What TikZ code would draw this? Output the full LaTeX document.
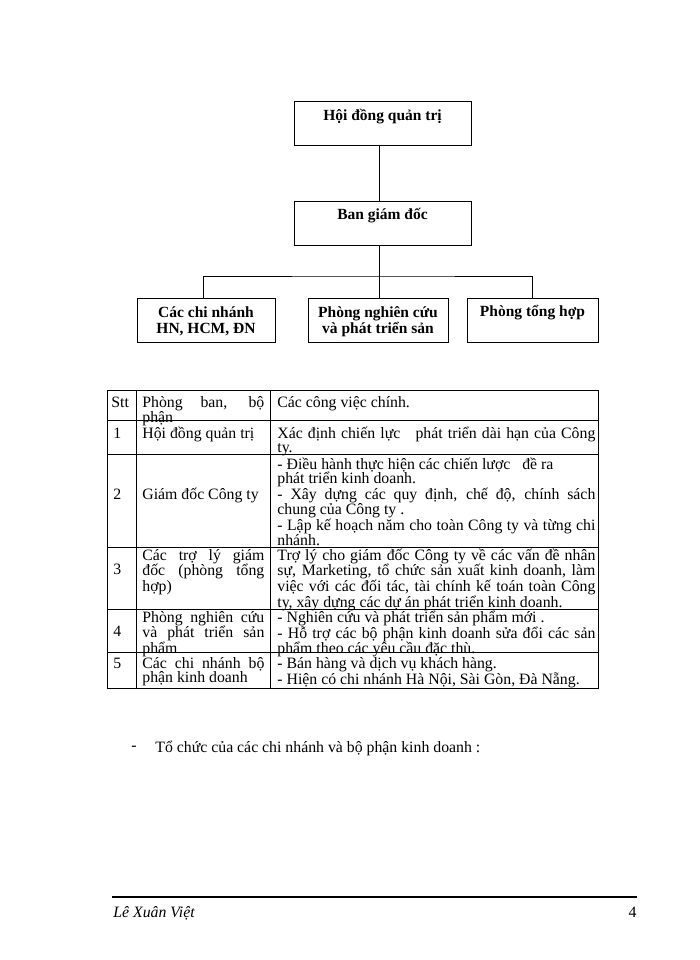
\documentclass[tikz,border=0pt]{standalone}
\usepackage{fontspec}
\setmainfont{Liberation Serif}
\usetikzlibrary{positioning}
\newcommand{\orgsize}{\fontsize{15.5}{16.5}\selectfont}
\newcommand{\cellsize}{\fontsize{15.8}{14.3}\selectfont}

\begin{document}
\begin{tikzpicture}[x=1pt, y=-1pt, line width=0.8pt, node distance=55pt, every node/.style={font=\cellsize}]
\tikzstyle{orgbox}=[rectangle, draw, inner sep=0pt, minimum height=44pt]
\tikzstyle{orglabel}=[font=\bfseries\orgsize, align=center, anchor=base, inner sep=0pt, yshift=-19pt]
\tikzstyle{orglabeltwo}=[orglabel, yshift=-17pt]
\tikzstyle{cell}=[anchor=base west, inner sep=0pt, align=justify]
\fill[white] (0,0) rectangle (700,960);
% so do to chuc
\node[orgbox, minimum width=177pt, label={[orglabel]north:Hội đồng quản trị}] (hdqt) at (382.5,123.5) {};
\node[orgbox, minimum width=177pt, below=of hdqt, label={[orglabel]north:Ban giám đốc}] (bgd) {};
\node[orgbox, minimum width=138pt, label={[orglabeltwo]north:Các chi nhánh\\HN, HCM, ĐN}] (cn) at (206,320) {};
\node[orgbox, minimum width=140pt, label={[orglabeltwo]north:Phòng nghiên cứu\\và phát triển sản}] (pnc) at (378,320) {};
\node[orgbox, minimum width=131pt, label={[orglabel]north:Phòng tổng hợp}] (pth) at (532.5,320) {};
\coordinate (trunk) at (379,276);
\draw (hdqt.south -| trunk) -- (bgd.north -| trunk);
\draw (bgd.south -| trunk) -- (pnc.north -| trunk);
\draw ([xshift=-3pt]cn.north) |- (trunk) -| (pth.north);
% bang cong viec
\node[cell] (stt) at (111,407) {Stt};
\node[cell, text width=122pt] (dept0) at (142,407) {Phòng ban, bộ\linebreak phận};
\node[cell, text width=318pt] (task0) at (277,407) {Các công việc chính.};
\node[cell] (no1) at (113,438) {1};
\node[cell, text width=122pt] (dept1) at (142,438) {Hội đồng quản trị};
\node[cell, text width=318pt] (task1) at (277,438) {Xác định chiến lực\ \ \ phát triển dài hạn của Công\linebreak ty.};
\node[cell] (no2) at (113,499) {2};
\node[cell, text width=122pt] (dept2) at (142,499) {Giám đốc Công ty};
\node[cell, text width=318pt] (task2) at (277,469) {- Điều hành thực hiện các chiến lược\ \ \ đề ra\\ phát triển kinh doanh.\\ - Xây dựng các quy định, chế độ, chính sách\linebreak chung của Công ty .\\ - Lập kế hoạch năm cho toàn Công ty và từng chi\linebreak nhánh.};
\node[cell] (no3) at (113,574) {3};
\node[cell, text width=122pt] (dept3) at (142,560) {Các trợ lý giám\linebreak đốc (phòng tổng\linebreak hợp)};
\node[cell, text width=318pt] (task3) at (277,560) {Trợ lý cho giám đốc Công ty về các vấn đề nhân\linebreak sự, Marketing, tổ chức sản xuất kinh doanh, làm\linebreak việc với các đối tác, tài chính kế toán toàn Công\linebreak ty, xây dựng các dự án phát triển kinh doanh.};
\node[cell] (no4) at (113,636) {4};
\node[cell, text width=122pt] (dept4) at (142,622) {Phòng nghiên cứu\linebreak và phát triển sản\linebreak phẩm};
\node[cell, text width=318pt] (task4) at (277,622) {- Nghiên cứu và phát triển sản phẩm mới .\\ - Hỗ trợ các bộ phận kinh doanh sửa đổi các sản\linebreak phẩm theo các yêu cầu đặc thù.};
\node[cell] (no5) at (113,668) {5};
\node[cell, text width=122pt] (dept5) at (142,668) {Các chi nhánh bộ\linebreak phận kinh doanh};
\node[cell, text width=318pt] (task5) at (277,668) {- Bán hàng và dịch vụ khách hàng.\\ - Hiện có chi nhánh Hà Nội, Sài Gòn, Đà Nẵng.};
\draw (107,390) rectangle (598,688);
\foreach \y in {420,454,547,609,652} \draw (107,\y) -- (598,\y);
\foreach \x in {136,270} \draw (\x,390) -- (\x,688);
% dong chu duoi bang
\node[cell] (dash) at (131,750) {-};
\node[cell] (note) at (155,752) {Tổ chức của các chi nhánh và bộ phận kinh doanh :};
% chan trang
\draw[line width=1.5pt] (112,897) -- (637,897);
\node[cell, font=\cellsize\itshape] (author) at (113,917) {Lê Xuân Việt};
\node[anchor=base east, inner sep=0pt] (page) at (637,917) {4};
\end{tikzpicture}
\end{document}
